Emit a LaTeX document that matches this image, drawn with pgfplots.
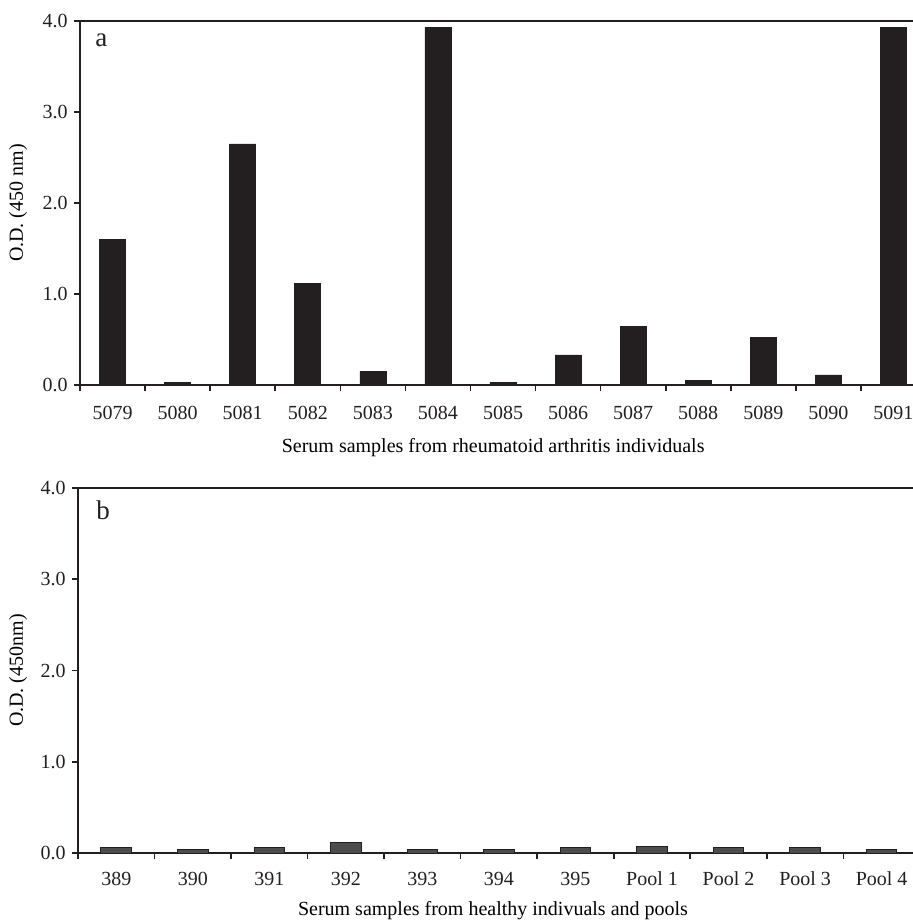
\documentclass[border=0pt]{standalone}
\usepackage{fontspec}
\setmainfont{Liberation Serif}
\usepackage{pgfplots}
\pgfplotsset{compat=1.18}
\definecolor{ink}{HTML}{231F20}
\definecolor{barb}{HTML}{4D4D4D}
\begin{document}
\begin{tikzpicture}
\useasboundingbox (0,0) rectangle (456.5pt,-461pt);
\pgfplotsset{
 common/.style={
  scale only axis,
  axis lines*=left,
  axis line style={ink, line width=0.8pt, -},
  ymin=0, ymax=4,
  ytick={0,1,2,3,4}, yticklabels={0.0,1.0,2.0,3.0,4.0},
  minor ytick={0,1,2,3,4},
  xmin=-0.5,
  major tick length=0pt, minor tick length=3pt,
  tick align=outside,
  tick style={ink, line width=0.8pt},
  ticklabel style={font=\fontsize{10}{12}\selectfont, text=ink, inner sep=0pt},
  yticklabel style={anchor=east, xshift=-6pt},
  label style={font=\fontsize{9.9}{12}\selectfont, text=ink},
  ybar, bar width=0.4,
  clip=false,
 }
}
\begin{axis}[common,
  at={(40pt,-192.5pt)}, anchor=south west,
  width=416.5pt, height=182pt,
  xmax=12.3,
  xtick={0,1,2,3,4,5,6,7,8,9,10,11,12},
  xticklabels={5079,5080,5081,5082,5083,5084,5085,5086,5087,5088,5089,5090,5091},
  minor xtick={-0.5,0.5,1.5,2.5,3.5,4.5,5.5,6.5,7.5,8.5,9.5,10.5,11.5},
  xticklabel style={anchor=base, yshift=-17pt},
  every axis x label/.style={at={(axis description cs:0.496,0)}, anchor=base, yshift=-33.5pt},
  every axis y label/.style={at={(axis description cs:-0.0744,0.5)}, rotate=90, anchor=center},
  xlabel={Serum samples from rheumatoid arthritis individuals},
  ylabel={O.D. (450 nm)},
]
\addplot[fill=ink, draw=ink, line width=0.3pt] coordinates {
 (0,1.60) (1,0.03) (2,2.65) (3,1.12) (4,0.15) (5,3.93) (6,0.03)
 (7,0.33) (8,0.64) (9,0.05) (10,0.52) (11,0.11) (12,3.93)};
\draw[ink, line width=0.8pt] (rel axis cs:0,1) -- (rel axis cs:1,1);
\end{axis}
\begin{axis}[common,
  at={(39pt,-426.5pt)}, anchor=south west,
  width=417.5pt, height=182.5pt,
  xmax=10.41,
  xtick={0,1,2,3,4,5,6,7,8,9,10},
  xticklabels={389,390,391,392,393,394,395,Pool 1,Pool 2,Pool 3,Pool 4},
  minor xtick={-0.5,0.5,1.5,2.5,3.5,4.5,5.5,6.5,7.5,8.5,9.5},
  xticklabel style={anchor=base, yshift=-16pt},
  every axis x label/.style={at={(axis description cs:0.497,0)}, anchor=base, yshift=-31pt},
  every axis y label/.style={at={(axis description cs:-0.0719,0.5)}, rotate=90, anchor=center},
  xlabel={Serum samples from healthy indivuals and pools},
  ylabel={O.D. (450nm)},
]
\addplot[fill=barb, draw=ink, line width=0.5pt] coordinates {
 (0,0.06) (1,0.04) (2,0.06) (3,0.11) (4,0.04) (5,0.04) (6,0.06)
 (7,0.075) (8,0.06) (9,0.06) (10,0.04)};
\draw[ink, line width=0.8pt] (rel axis cs:0,1) -- (rel axis cs:1,1);
\end{axis}
\node[anchor=base west, font=\fontsize{13.5}{15}\selectfont, text=ink, inner sep=0pt] at (47.5pt,-23.3pt) {a};
\node[anchor=base west, font=\fontsize{13.5}{15}\selectfont, text=ink, inner sep=0pt] at (48pt,-259.5pt) {b};
\end{tikzpicture}
\end{document}
